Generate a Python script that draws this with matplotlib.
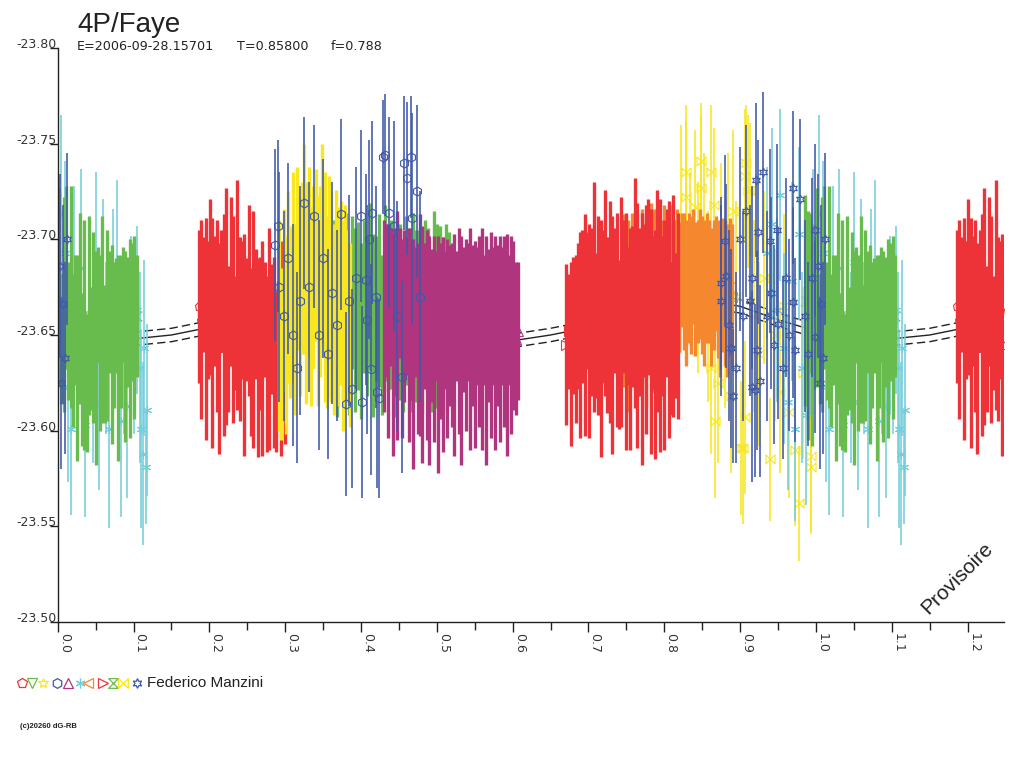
import numpy as np
import matplotlib.pyplot as plt
from matplotlib.ticker import FormatStrFormatter, MultipleLocator

plt.rcParams['font.family'] = ['Liberation Sans', 'DejaVu Sans']

# phase folded data (phase in 0..1), magnitude, error

green_a_phase = [0.986, 0.989, 0.992, 0.995, 0.998, 0.002, 0.005, 0.008, 0.011, 0.014,
                 0.017, 0.020, 0.023, 0.026, 0.029, 0.032, 0.035, 0.038, 0.041, 0.044,
                 0.047, 0.050, 0.053, 0.056, 0.059, 0.062, 0.065, 0.068, 0.071, 0.074,
                 0.077, 0.080, 0.083, 0.086, 0.089, 0.092, 0.095, 0.098, 0.101, 0.104]
green_a_mag = [-23.668, -23.655, -23.672, -23.650, -23.662, -23.675, -23.648, -23.666, -23.680, -23.652,
               -23.670, -23.642, -23.658, -23.638, -23.664, -23.632, -23.650, -23.625, -23.660, -23.643,
               -23.654, -23.638, -23.666, -23.646, -23.658, -23.640, -23.655, -23.662, -23.645, -23.650,
               -23.660, -23.638, -23.652, -23.666, -23.644, -23.657, -23.648, -23.662, -23.654, -23.660]
green_a_err = [0.055, 0.060, 0.042, 0.058, 0.040, 0.052, 0.034, 0.056, 0.048, 0.036,
               0.058, 0.040, 0.034, 0.054, 0.050, 0.040, 0.060, 0.036, 0.052, 0.032,
               0.050, 0.056, 0.030, 0.046, 0.054, 0.036, 0.050, 0.032, 0.052, 0.038,
               0.030, 0.054, 0.040, 0.030, 0.050, 0.034, 0.052, 0.036, 0.048, 0.032]

cyan_phase = [0.935, 0.942, 0.948, 0.953, 0.958, 0.963, 0.968, 0.972, 0.977, 0.982,
              0.987, 0.992, 0.996, 0.004, 0.009, 0.013, 0.017, 0.022, 0.027, 0.031,
              0.036, 0.041, 0.046, 0.050, 0.055, 0.060, 0.064, 0.068, 0.073, 0.078,
              0.083, 0.087, 0.092, 0.097, 0.101, 0.105, 0.108, 0.110, 0.112, 0.114,
              0.116, 0.118]
cyan_mag = [-23.693, -23.708, -23.663, -23.723, -23.643, -23.615, -23.678, -23.601, -23.703, -23.633,
            -23.608, -23.658, -23.693, -23.713, -23.693, -23.623, -23.601, -23.678, -23.643, -23.685,
            -23.603, -23.658, -23.633, -23.688, -23.615, -23.671, -23.643, -23.601, -23.668, -23.685,
            -23.605, -23.643, -23.613, -23.655, -23.643, -23.663, -23.633, -23.601, -23.588, -23.643,
            -23.581, -23.611]
cyan_err = [0.045, 0.050, 0.048, 0.045, 0.050, 0.046, 0.052, 0.048, 0.045, 0.050,
            0.047, 0.050, 0.044, 0.052, 0.048, 0.050, 0.045, 0.050, 0.046, 0.052,
            0.048, 0.045, 0.050, 0.047, 0.046, 0.050, 0.045, 0.052, 0.048, 0.046,
            0.050, 0.045, 0.048, 0.047, 0.045, 0.044, 0.050, 0.052, 0.048, 0.046,
            0.030, 0.045]

red_a_phase = [0.186, 0.189, 0.192, 0.195, 0.198, 0.201, 0.204, 0.207, 0.210, 0.213,
               0.216, 0.219, 0.222, 0.225, 0.228, 0.231, 0.234, 0.237, 0.240, 0.243,
               0.246, 0.249, 0.252, 0.255, 0.258, 0.261, 0.264, 0.267, 0.270, 0.273,
               0.276, 0.279, 0.282, 0.285, 0.288, 0.291, 0.294, 0.297, 0.300]
red_a_mag = [-23.665, -23.658, -23.671, -23.653, -23.663, -23.675, -23.651, -23.668, -23.660, -23.643,
             -23.673, -23.655, -23.665, -23.648, -23.678, -23.658, -23.651, -23.671, -23.653, -23.663,
             -23.645, -23.658, -23.668, -23.641, -23.653, -23.661, -23.638, -23.651, -23.643, -23.658,
             -23.635, -23.648, -23.653, -23.641, -23.631, -23.648, -23.643, -23.655, -23.639]
red_a_err = [0.040, 0.052, 0.030, 0.058, 0.036, 0.046, 0.060, 0.034, 0.050, 0.055,
             0.032, 0.058, 0.062, 0.038, 0.044, 0.054, 0.030, 0.060, 0.048, 0.036,
             0.058, 0.032, 0.050, 0.044, 0.062, 0.034, 0.052, 0.040, 0.056, 0.030,
             0.046, 0.058, 0.034, 0.050, 0.042, 0.030, 0.056, 0.034, 0.046]

yellow_a_phase = [0.292, 0.295, 0.298, 0.301, 0.304, 0.307, 0.310, 0.313, 0.316, 0.319,
                  0.322, 0.325, 0.328, 0.331, 0.334, 0.337, 0.340, 0.343, 0.346, 0.349,
                  0.352, 0.355, 0.358, 0.361, 0.364, 0.367, 0.370, 0.373, 0.376, 0.379,
                  0.382, 0.385]
yellow_a_mag = [-23.655, -23.640, -23.668, -23.650, -23.675, -23.662, -23.680, -23.658, -23.690, -23.670,
                -23.685, -23.695, -23.672, -23.688, -23.665, -23.680, -23.692, -23.668, -23.678, -23.698,
                -23.675, -23.662, -23.685, -23.670, -23.658, -23.680, -23.665, -23.672, -23.655, -23.668,
                -23.660, -23.650]
yellow_a_err = [0.055, 0.045, 0.048, 0.052, 0.050, 0.045, 0.055, 0.050, 0.048, 0.052,
                0.045, 0.055, 0.058, 0.050, 0.052, 0.048, 0.045, 0.055, 0.050, 0.052,
                0.060, 0.050, 0.048, 0.055, 0.050, 0.046, 0.052, 0.048, 0.055, 0.050,
                0.045, 0.048]

blue_a_phase = [0.286, 0.290, 0.292, 0.298, 0.304, 0.310, 0.316, 0.320, 0.325, 0.332,
                0.338, 0.344, 0.350, 0.356, 0.362, 0.368, 0.374, 0.380, 0.384, 0.388,
                0.394, 0.400, 0.401, 0.406, 0.408, 0.410, 0.413, 0.414, 0.420, 0.421,
                0.424, 0.429, 0.432, 0.437, 0.443, 0.448, 0.454, 0.457, 0.461, 0.466,
                0.467, 0.474, 0.478]
blue_a_mag = [-23.697, -23.707, -23.675, -23.660, -23.690, -23.650, -23.633, -23.668, -23.719, -23.675,
              -23.712, -23.650, -23.690, -23.640, -23.672, -23.655, -23.713, -23.614, -23.668, -23.622,
              -23.680, -23.712, -23.615, -23.679, -23.658, -23.700, -23.632, -23.714, -23.670, -23.620,
              -23.617, -23.743, -23.744, -23.714, -23.707, -23.660, -23.628, -23.740, -23.732, -23.743,
              -23.711, -23.725, -23.670]
blue_a_err = [0.050, 0.045, 0.060, 0.055, 0.050, 0.058, 0.050, 0.060, 0.045, 0.055,
              0.048, 0.060, 0.052, 0.055, 0.058, 0.050, 0.050, 0.048, 0.055, 0.052,
              0.058, 0.045, 0.050, 0.055, 0.060, 0.052, 0.055, 0.048, 0.058, 0.050,
              0.052, 0.030, 0.032, 0.050, 0.055, 0.060, 0.050, 0.035, 0.040, 0.032,
              0.055, 0.045, 0.055]

green_b_phase = [0.360, 0.364, 0.368, 0.372, 0.376, 0.380, 0.384, 0.388, 0.392, 0.396,
                 0.400, 0.404, 0.408, 0.412, 0.416, 0.420, 0.424, 0.428, 0.432, 0.436,
                 0.440, 0.444, 0.448, 0.452, 0.456, 0.460, 0.464, 0.468, 0.472, 0.476,
                 0.480, 0.484, 0.488, 0.492, 0.496, 0.500, 0.504, 0.508, 0.512, 0.516]
green_b_mag = [-23.662, -23.670, -23.655, -23.675, -23.660, -23.668, -23.650, -23.672, -23.658, -23.665,
               -23.652, -23.670, -23.660, -23.675, -23.655, -23.664, -23.668, -23.650, -23.672, -23.660,
               -23.666, -23.655, -23.670, -23.662, -23.650, -23.668, -23.658, -23.672, -23.660, -23.665,
               -23.655, -23.668, -23.662, -23.650, -23.670, -23.660, -23.665, -23.655, -23.668, -23.660]
green_b_err = [0.045, 0.040, 0.048, 0.038, 0.044, 0.046, 0.042, 0.040, 0.048, 0.044,
               0.046, 0.040, 0.042, 0.044, 0.048, 0.038, 0.045, 0.042, 0.046, 0.040,
               0.044, 0.048, 0.042, 0.046, 0.040, 0.044, 0.048, 0.042, 0.045, 0.040,
               0.046, 0.042, 0.044, 0.040, 0.045, 0.048, 0.042, 0.046, 0.040, 0.044]

magenta_phase = [0.430, 0.433, 0.436, 0.439, 0.442, 0.445, 0.448, 0.451, 0.454, 0.457,
                 0.460, 0.463, 0.466, 0.469, 0.472, 0.475, 0.478, 0.481, 0.484, 0.487,
                 0.490, 0.493, 0.496, 0.499, 0.502, 0.505, 0.508, 0.511, 0.514, 0.517,
                 0.520, 0.523, 0.526, 0.529, 0.532, 0.535, 0.538, 0.541, 0.544, 0.547,
                 0.550, 0.553, 0.556, 0.559, 0.562, 0.565, 0.568, 0.571, 0.574, 0.577,
                 0.580, 0.583, 0.586, 0.589, 0.592, 0.595, 0.598, 0.601, 0.604, 0.607]
magenta_mag = [-23.660, -23.668, -23.652, -23.670, -23.645, -23.662, -23.655, -23.672, -23.648, -23.660,
               -23.665, -23.650, -23.658, -23.640, -23.662, -23.648, -23.655, -23.645, -23.660, -23.650,
               -23.642, -23.655, -23.648, -23.660, -23.640, -23.652, -23.645, -23.658, -23.648, -23.655,
               -23.650, -23.645, -23.660, -23.652, -23.642, -23.658, -23.650, -23.662, -23.648, -23.655,
               -23.645, -23.660, -23.652, -23.648, -23.658, -23.642, -23.655, -23.650, -23.660, -23.646,
               -23.655, -23.648, -23.660, -23.652, -23.645, -23.658, -23.650, -23.655, -23.648, -23.652]
magenta_err = [0.050, 0.040, 0.056, 0.036, 0.058, 0.044, 0.060, 0.034, 0.052, 0.045,
               0.036, 0.056, 0.042, 0.060, 0.034, 0.050, 0.058, 0.062, 0.038, 0.055,
               0.060, 0.040, 0.054, 0.034, 0.062, 0.046, 0.056, 0.036, 0.052, 0.042,
               0.048, 0.058, 0.034, 0.054, 0.060, 0.038, 0.050, 0.036, 0.058, 0.042,
               0.054, 0.036, 0.050, 0.058, 0.034, 0.060, 0.040, 0.054, 0.036, 0.056,
               0.042, 0.054, 0.036, 0.050, 0.058, 0.034, 0.052, 0.044, 0.040, 0.036]

red_b_phase = [0.671, 0.674, 0.677, 0.680, 0.683, 0.686, 0.689, 0.692, 0.695, 0.698,
               0.701, 0.704, 0.707, 0.710, 0.713, 0.716, 0.719, 0.722, 0.725, 0.728,
               0.731, 0.734, 0.737, 0.740, 0.743, 0.746, 0.749, 0.752, 0.755, 0.758,
               0.761, 0.764, 0.767, 0.770, 0.773, 0.776, 0.779, 0.782, 0.785, 0.788,
               0.791, 0.794, 0.797, 0.800, 0.803, 0.806, 0.809, 0.812, 0.815, 0.818]
red_b_mag = [-23.645, -23.652, -23.640, -23.655, -23.648, -23.660, -23.650, -23.665, -23.655, -23.668,
             -23.652, -23.662, -23.670, -23.655, -23.660, -23.648, -23.665, -23.672, -23.655, -23.662,
             -23.650, -23.668, -23.658, -23.645, -23.662, -23.670, -23.652, -23.660, -23.648, -23.665,
             -23.672, -23.655, -23.662, -23.648, -23.668, -23.658, -23.675, -23.652, -23.662, -23.645,
             -23.668, -23.655, -23.660, -23.650, -23.672, -23.658, -23.648, -23.665, -23.655, -23.660]
red_b_err = [0.042, 0.030, 0.048, 0.036, 0.044, 0.038, 0.054, 0.040, 0.058, 0.036,
             0.056, 0.044, 0.060, 0.038, 0.052, 0.062, 0.040, 0.054, 0.046, 0.058,
             0.062, 0.038, 0.056, 0.044, 0.060, 0.040, 0.062, 0.036, 0.058, 0.042,
             0.060, 0.064, 0.044, 0.066, 0.040, 0.060, 0.046, 0.064, 0.040, 0.060,
             0.058, 0.066, 0.042, 0.060, 0.044, 0.062, 0.040, 0.058, 0.038, 0.054]

orange_phase = [0.746, 0.752, 0.758, 0.764, 0.770, 0.776, 0.782, 0.787,
                0.790, 0.793, 0.796, 0.799, 0.802, 0.805, 0.808, 0.811, 0.814, 0.817,
                0.820, 0.823, 0.826, 0.829, 0.832, 0.835, 0.838, 0.841, 0.844, 0.847,
                0.850, 0.853, 0.856, 0.859, 0.862, 0.865, 0.868, 0.871, 0.874, 0.877,
                0.880, 0.883, 0.886, 0.889]
orange_mag = [-23.668, -23.660, -23.672, -23.665, -23.670, -23.662, -23.675, -23.668,
              -23.672, -23.678, -23.668, -23.680, -23.674, -23.670, -23.682, -23.676, -23.672, -23.680,
              -23.675, -23.684, -23.678, -23.672, -23.680, -23.676, -23.686, -23.674, -23.678, -23.682,
              -23.676, -23.672, -23.680, -23.678, -23.670, -23.676, -23.682, -23.674, -23.668, -23.676,
              -23.672, -23.668, -23.675, -23.670]
orange_err = [0.045, 0.050, 0.042, 0.048, 0.046, 0.050, 0.044, 0.048,
              0.040, 0.036, 0.042, 0.038, 0.035, 0.040, 0.036, 0.034, 0.038, 0.036,
              0.034, 0.030, 0.036, 0.038, 0.034, 0.036, 0.030, 0.035, 0.032, 0.034,
              0.036, 0.038, 0.034, 0.032, 0.036, 0.034, 0.030, 0.036, 0.040, 0.035,
              0.038, 0.040, 0.036, 0.038]

yellow_b_phase = [0.822, 0.828, 0.829, 0.834, 0.841, 0.845, 0.848, 0.849, 0.853, 0.857,
                  0.862, 0.862, 0.865, 0.867, 0.871, 0.875, 0.880, 0.884, 0.888, 0.891,
                  0.895, 0.901, 0.904, 0.907, 0.907, 0.908, 0.911, 0.913, 0.918, 0.925,
                  0.932, 0.940, 0.946, 0.952, 0.958, 0.964, 0.973, 0.977, 0.983, 0.993,
                  0.994]
yellow_b_mag = [-23.700, -23.722, -23.735, -23.690, -23.717, -23.680, -23.727, -23.741, -23.700, -23.665,
                -23.735, -23.633, -23.718, -23.605, -23.625, -23.690, -23.660, -23.700, -23.618, -23.715,
                -23.670, -23.591, -23.591, -23.733, -23.607, -23.740, -23.725, -23.726, -23.660, -23.640,
                -23.680, -23.585, -23.650, -23.620, -23.665, -23.610, -23.590, -23.562, -23.630, -23.587,
                -23.581]
yellow_b_err = [0.060, 0.040, 0.035, 0.045, 0.040, 0.050, 0.038, 0.030, 0.045, 0.050,
                0.035, 0.045, 0.040, 0.040, 0.042, 0.050, 0.048, 0.045, 0.040, 0.042,
                0.050, 0.035, 0.040, 0.035, 0.040, 0.030, 0.040, 0.035, 0.050, 0.048,
                0.045, 0.032, 0.045, 0.042, 0.048, 0.045, 0.040, 0.030, 0.045, 0.040,
                0.035]

blue_b_phase = [0.875, 0.875, 0.880, 0.881, 0.885, 0.888, 0.891, 0.895, 0.900, 0.904,
                0.908, 0.913, 0.915, 0.915, 0.920, 0.921, 0.922, 0.924, 0.926, 0.930,
                0.935, 0.939, 0.941, 0.945, 0.948, 0.950, 0.956, 0.960, 0.965, 0.970,
                0.970, 0.973, 0.979, 0.985, 0.990, 0.995, 0.999, 0.999, 0.003, 0.005,
                0.007, 0.009, 0.012]
blue_b_mag = [-23.677, -23.668, -23.699, -23.681, -23.655, -23.643, -23.618, -23.633, -23.700, -23.660,
              -23.715, -23.668, -23.680, -23.623, -23.621, -23.731, -23.642, -23.704, -23.626, -23.735,
              -23.660, -23.699, -23.672, -23.645, -23.705, -23.656, -23.633, -23.680, -23.650, -23.727,
              -23.667, -23.642, -23.721, -23.660, -23.640, -23.680, -23.705, -23.649, -23.686, -23.625,
              -23.666, -23.638, -23.700]
blue_b_err = [0.045, 0.050, 0.045, 0.048, 0.050, 0.052, 0.035, 0.050, 0.048, 0.055,
              0.045, 0.050, 0.048, 0.050, 0.045, 0.040, 0.052, 0.048, 0.050, 0.042,
              0.055, 0.048, 0.050, 0.052, 0.045, 0.050, 0.048, 0.052, 0.050, 0.040,
              0.050, 0.048, 0.042, 0.050, 0.048, 0.052, 0.045, 0.050, 0.048, 0.045,
              0.052, 0.050, 0.045]

# fitted light curve (middle) and its envelope
fit_phase = [0.00, 0.05, 0.10, 0.15, 0.20, 0.25, 0.30, 0.35, 0.40, 0.45, 0.50, 0.55, 0.60,
             0.65, 0.70, 0.75, 0.80, 0.85, 0.90, 0.95, 1.00, 1.05, 1.10, 1.15, 1.20, 1.25]
fit_mag = [-23.652, -23.649, -23.648, -23.650, -23.654, -23.657, -23.661, -23.664, -23.662,
           -23.657, -23.652, -23.648, -23.647, -23.650, -23.654, -23.659, -23.664, -23.668,
           -23.665, -23.658, -23.652, -23.649, -23.648, -23.650, -23.654, -23.657]
fit_band = 0.0035

RED = '#EE3338'
GREEN = '#68BC4E'
YELLOW = '#F8E71F'
BLUE = '#3F58A8'
MAGENTA = '#B0357F'
CYAN = '#74CDDB'
ORANGE = '#F5872F'

hourglass = [(-1, 1), (1, 1), (-1, -1), (1, -1), (-1, 1)]
bowtie = [(-1, 1), (-1, -1), (1, 1), (1, -1), (-1, 1)]

DENSE = 2.4
SPARSE = 1.15

# drawing order = stacking order; last flag: markers kept above the earlier groups
groups = [
    (red_a_phase, red_a_mag, red_a_err, RED, 'p', DENSE, False),
    (yellow_b_phase, yellow_b_mag, yellow_b_err, YELLOW, bowtie, SPARSE, True),
    (orange_phase, orange_mag, orange_err, ORANGE, '<', DENSE, False),
    (red_b_phase, red_b_mag, red_b_err, RED, '>', DENSE, False),
    (green_b_phase, green_b_mag, green_b_err, GREEN, 'v', DENSE, False),
    (magenta_phase, magenta_mag, magenta_err, MAGENTA, '^', DENSE, False),
    (yellow_a_phase, yellow_a_mag, yellow_a_err, YELLOW, '*', DENSE, False),
    (cyan_phase, cyan_mag, cyan_err, CYAN, (6, 2, 0), SPARSE, True),
    (green_a_phase, green_a_mag, green_a_err, GREEN, hourglass, DENSE, False),
    (blue_a_phase, blue_a_mag, blue_a_err, BLUE, 'h', SPARSE, True),
    (blue_b_phase, blue_b_mag, blue_b_err, BLUE, (6, 1, 0), SPARSE, True),
]

XMAX = 1.248
LABEL_FONT = ['DejaVu Sans']

fig = plt.figure(figsize=(10.24, 7.68), dpi=100)

# pixel-coordinate overlay for the free texts and the symbol row
lax = fig.add_axes([0, 0, 1, 1])
lax.set_xlim(0, 1024)
lax.set_ylim(768, 0)
lax.axis('off')

ax = fig.add_axes([57.7 / 1024, 1 - 622 / 768, (1004 - 57.7) / 1024, 574 / 768])
ax.patch.set_alpha(0)

# model curves
fp = np.array(fit_phase)
fm = np.array(fit_mag)
ax.plot(fp, fm, color='#222222', lw=1.0, zorder=1)
ax.plot(fp, fm - fit_band, color='#222222', lw=1.0, ls=(0, (6, 3)), zorder=1)
ax.plot(fp, fm + fit_band, color='#222222', lw=1.0, ls=(0, (6, 3)), zorder=1)

for i, (ph, mg, er, col, mk, lw, on_top) in enumerate(groups):
    ph = np.asarray(ph)
    mg = np.asarray(mg)
    er = np.asarray(er)
    x = np.concatenate([ph, ph + 1])
    m = np.concatenate([mg, mg])
    e = np.concatenate([er, er])
    keep = x <= XMAX
    x, m, e = x[keep], m[keep], e[keep]
    mz = 2.5 + i if on_top else 1.5
    ax.plot(x, m, ls='none', marker=mk, ms=6.5, mfc='none', mec=col, mew=0.8,
            zorder=mz)
    ax.vlines(x, m - e, m + e, colors=col, lw=lw, zorder=3 + i)

ax.set_xlim(0, XMAX)
ax.set_ylim(-23.50, -23.80)

ax.spines['top'].set_visible(False)
ax.spines['right'].set_visible(False)
for s in ('left', 'bottom'):
    ax.spines[s].set_color('#222222')
    ax.spines[s].set_linewidth(1.0)
    ax.spines[s].set_zorder(20)

ax.xaxis.set_major_locator(MultipleLocator(0.1))
ax.xaxis.set_minor_locator(MultipleLocator(0.05))
ax.xaxis.set_major_formatter(FormatStrFormatter('%.1f'))
ax.yaxis.set_major_locator(MultipleLocator(0.05))
ax.yaxis.set_major_formatter(FormatStrFormatter('%.2f'))

ax.tick_params(axis='x', which='major', direction='out', length=7.2, width=1,
               color='#222222', labelsize=9, labelcolor='#333333', pad=1)
ax.tick_params(axis='x', which='minor', direction='out', length=5.8, width=1,
               color='#222222')
ax.tick_params(axis='y', which='major', direction='out', length=6, width=1,
               color='#222222', labelsize=9, labelcolor='#333333', pad=-5)
for lab in ax.get_xticklabels():
    lab.set_rotation(270)
    lab.set_ha('left')
    lab.set_va('top')
    lab.set_family(LABEL_FONT)
for lab in ax.get_yticklabels():
    lab.set_va('baseline')
    lab.set_family(LABEL_FONT)

# titles
lax.text(77, 32, '4P/Faye', fontsize=20, color='#222222', va='baseline', ha='left')
lax.text(77, 49.5, 'E=2006-09-28.15701', fontsize=9.2, color='#222222',
         va='baseline', family=LABEL_FONT)
lax.text(237, 49.5, 'T=0.85800', fontsize=9.2, color='#222222', va='baseline',
         family=LABEL_FONT)
lax.text(331, 49.5, 'f=0.788', fontsize=9.2, color='#222222', va='baseline',
         family=LABEL_FONT)

lax.text(957, 578, 'Provisoire', fontsize=15, color='#222222', rotation=45,
         ha='center', va='center', rotation_mode='anchor')

# observer symbol row
sym_x = [22, 32, 43, 57, 68, 80, 88, 103, 113, 123, 137]
sym_style = [(RED, 'p'), (GREEN, 'v'), (YELLOW, '*'), (BLUE, 'h'), (MAGENTA, '^'),
             (CYAN, (6, 2, 0)), (ORANGE, '<'), (RED, '>'), (GREEN, hourglass),
             (YELLOW, bowtie), (BLUE, (6, 1, 0))]
for sx, (col, mk) in zip(sym_x, sym_style):
    lax.plot([sx], [683], ls='none', marker=mk, ms=7, mfc='none', mec=col, mew=0.9)
lax.text(147, 687, 'Federico Manzini', fontsize=11, color='#222222', va='baseline')

lax.text(20, 726, '(c)20260 dG-RB', fontsize=5.5, color='#222222', va='center',
         fontweight='bold')

fig.savefig('out.png', dpi=100)
